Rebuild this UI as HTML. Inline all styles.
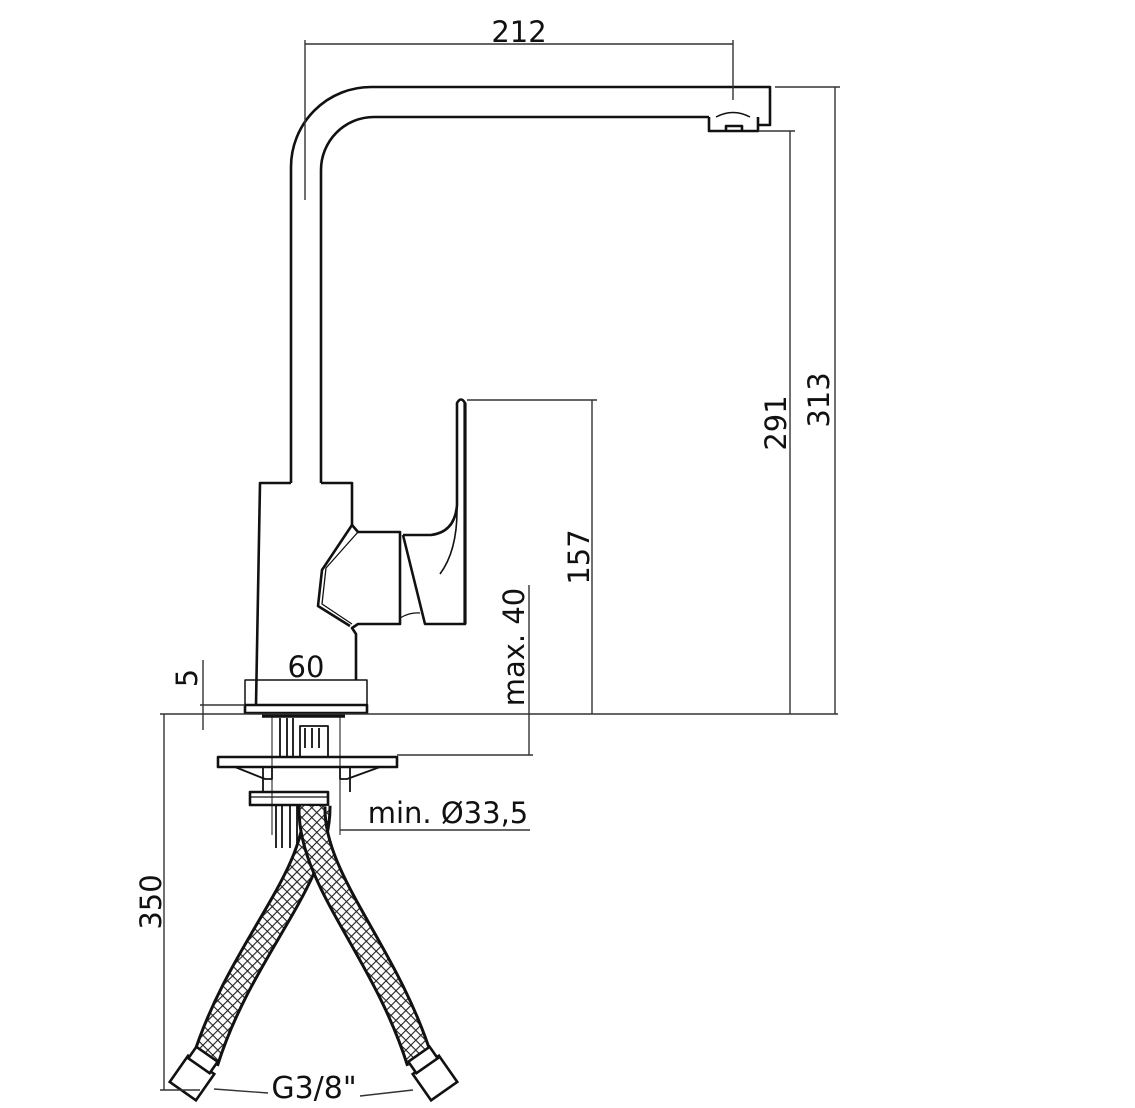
<!DOCTYPE html>
<html><head><meta charset="utf-8"><style>
html,body{margin:0;padding:0;background:#fff;}
svg{display:block;}
text{font-family:"DejaVu Sans","Liberation Sans",sans-serif;fill:#111;}
</style></head><body>
<svg width="1135" height="1108" viewBox="0 0 1135 1108" xmlns="http://www.w3.org/2000/svg">
<defs>
<pattern id="hatch" patternUnits="userSpaceOnUse" width="7" height="7" patternTransform="rotate(45)">
<rect width="7" height="7" fill="#fff"/>
<line x1="0" y1="0" x2="0" y2="7" stroke="#222" stroke-width="2.2"/>
<line x1="0" y1="0" x2="7" y2="0" stroke="#222" stroke-width="2.2"/>
</pattern>
</defs>
<g fill="none" stroke="#111" stroke-width="2.6" stroke-linejoin="round">
<!-- spout -->
<path d="M291,483 V167 A80,80 0 0 1 371,87 H770 V125 H758"/>
<path d="M321,483 V170 A53,53 0 0 1 374,117 H709"/>
<path d="M709,117 V131 H758 V117 M726,131 V126 H742 V131"/>
<path d="M716,117 Q733,108 750,117" stroke-width="1.5"/>
<!-- body -->
<path d="M291,483 H260 L256,705"/>
<path d="M321,483 H352 V525"/>
<path d="M352,525 L358,532 L400,532 V624 L358,624 L352,628 L356,634 V680"/>
<path d="M352,525 L322,570 L318,606 L350,626"/>
<path d="M358,532 L326,568 L322,604 L352,624" stroke-width="1.3"/>
<!-- handle -->
<path d="M403,535 H431 Q455,532 457,505 V403 Q461,396 465,403 V624 H425 L403,535"/>
<path d="M465,403 V624" stroke-width="3.2"/>
<path d="M457,505 Q458,550 440,574" stroke-width="1.6"/>
<path d="M400,618 Q410,612 420,613" stroke-width="1.3"/>
<!-- flange -->
<path d="M245,705 V680 H367 V705" stroke-width="1.5"/>
<rect x="245" y="705" width="122" height="8"/>
<line x1="262" y1="716" x2="345" y2="716" stroke-width="3.5"/>
<!-- below deck -->
<path d="M280,718 V757 M287,718 V757 M293,718 V757" stroke-width="1.8"/>
<path d="M300,757 V726 H328 V757 M305,728 V748 M312,728 V748 M319,728 V748" stroke-width="1.8"/>
<path d="M272,716 V835 M340,716 V835" stroke-width="1"/>
<rect x="218" y="757" width="179" height="10"/>
<path d="M235,767 L272,767 V779 L265,779 Z M380,767 L340,767 V779 L347,779 Z" stroke-width="1.8"/>
<path d="M263,767 V792 M350,767 V792" stroke-width="1.8"/>
<rect x="250" y="792" width="78" height="13"/>
<line x1="250" y1="797" x2="328" y2="797" stroke-width="1.2"/>
<path d="M276,805 V848 M282,805 V848 M290,805 V848 M297,805 V848" stroke-width="1.8"/>
</g>
<!-- hoses -->
<g fill="none" stroke-linecap="butt">
<path d="M317,806 C318,880 240,950 205,1062" stroke="#111" stroke-width="29"/>
<path d="M317,806 C318,880 240,950 205,1062" stroke="url(#hatch)" stroke-width="23"/>
<path d="M312,806 C310,880 385,950 420,1062" stroke="#111" stroke-width="29"/>
<path d="M312,806 C310,880 385,950 420,1062" stroke="url(#hatch)" stroke-width="23"/>
</g>
<g fill="#fff" stroke="#111" stroke-width="2.6">
<rect x="-16" y="-16" width="32" height="32" transform="translate(192,1078) rotate(35)"/>
<rect x="-13" y="-7" width="26" height="14" transform="translate(203,1060) rotate(35)"/>
<rect x="-16" y="-16" width="32" height="32" transform="translate(435,1078) rotate(-35)"/>
<rect x="-13" y="-7" width="26" height="14" transform="translate(423,1060) rotate(-35)"/>
</g>
<!-- dimension lines -->
<g fill="none" stroke="#333" stroke-width="1.4">
<path d="M305,40 V200 M733,40 V100 M305,44 H733"/>
<path d="M775,87 H840 M835,87 V714"/>
<path d="M758,131 H795 M790,131 V714"/>
<path d="M467,400 H597 M592,400 V714"/>
<path d="M160,714 H838"/>
<path d="M397,755 H533 M529,585 V755"/>
<path d="M203,660 V730 M200,705 H245"/>
<path d="M164,714 V1090 M160,1090 H200"/>
<path d="M340,830 H530"/>
<path d="M214,1089 L268,1093 M360,1096 L413,1090"/>
</g>
<!-- labels -->
<text x="519" y="42" font-size="29" text-anchor="middle">212</text>
<text x="306" y="677" font-size="29" text-anchor="middle">60</text>
<text x="448" y="823" font-size="29" text-anchor="middle">min. Ø33,5</text>
<text x="314" y="1098" font-size="30" text-anchor="middle">G3/8"</text>
<text transform="translate(829,400) rotate(-90)" font-size="29" text-anchor="middle">313</text>
<text transform="translate(786,423) rotate(-90)" font-size="29" text-anchor="middle">291</text>
<text transform="translate(589,557) rotate(-90)" font-size="29" text-anchor="middle">157</text>
<text transform="translate(524,647) rotate(-90)" font-size="29" text-anchor="middle">max. 40</text>
<text transform="translate(197,678) rotate(-90)" font-size="29" text-anchor="middle">5</text>
<text transform="translate(161,902) rotate(-90)" font-size="29" text-anchor="middle">350</text>
</svg>
</body></html>
